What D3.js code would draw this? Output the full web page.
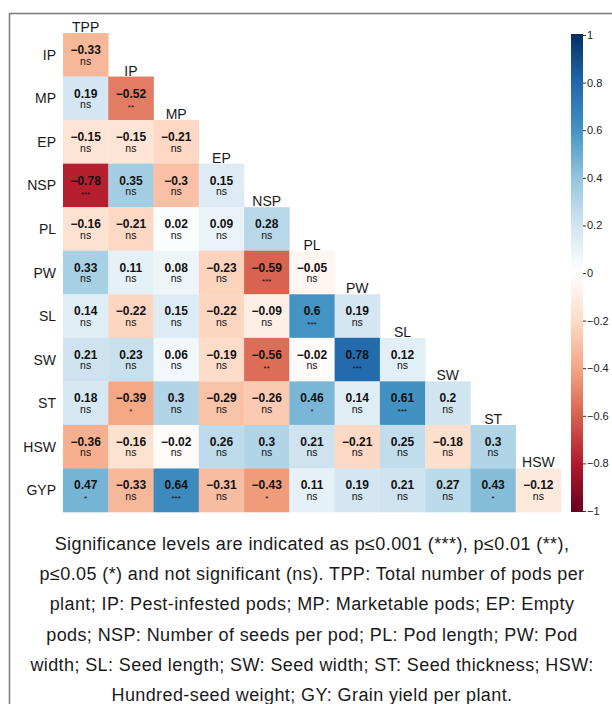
<!DOCTYPE html>
<meta charset="utf-8">
<script src="https://d3js.org/d3.v7.min.js"></script>
<style>
  body { margin: 0; background: #fff; }
  text { font-family: "Liberation Sans", Arial, sans-serif; }
</style>
<svg id="chart" width="612" height="704"></svg>
<script>

// Variables
var rowVars = ["IP", "MP", "EP", "NSP", "PL", "PW", "SL", "SW", "ST", "HSW", "GYP"];
var colVars = ["TPP", "IP", "MP", "EP", "NSP", "PL", "PW", "SL", "SW", "ST", "HSW"];

// Lower triangle of correlations, one row per rowVars entry
var corr = [
  [-0.33],
  [0.19, -0.52],
  [-0.15, -0.15, -0.21],
  [-0.78, 0.35, -0.3, 0.15],
  [-0.16, -0.21, 0.02, 0.09, 0.28],
  [0.33, 0.11, 0.08, -0.23, -0.59, -0.05],
  [0.14, -0.22, 0.15, -0.22, -0.09, 0.6, 0.19],
  [0.21, 0.23, 0.06, -0.19, -0.56, -0.02, 0.78, 0.12],
  [0.18, -0.39, 0.3, -0.29, -0.26, 0.46, 0.14, 0.61, 0.2],
  [-0.36, -0.16, -0.02, 0.26, 0.3, 0.21, -0.21, 0.25, -0.18, 0.3],
  [0.47, -0.33, 0.64, -0.31, -0.43, 0.11, 0.19, 0.21, 0.27, 0.43, -0.12]
];

// Significance codes, same shape
var sig = [
  ["ns"],
  ["ns", "**"],
  ["ns", "ns", "ns"],
  ["***", "ns", "ns", "ns"],
  ["ns", "ns", "ns", "ns", "ns"],
  ["ns", "ns", "ns", "ns", "***", "ns"],
  ["ns", "ns", "ns", "ns", "ns", "***", "ns"],
  ["ns", "ns", "ns", "ns", "**", "ns", "***", "ns"],
  ["ns", "*", "ns", "ns", "ns", "*", "ns", "***", "ns"],
  ["ns", "ns", "ns", "ns", "ns", "ns", "ns", "ns", "ns", "ns"],
  ["*", "ns", "***", "ns", "*", "ns", "ns", "ns", "ns", "*", "ns"]
];

var legendTicks = [-1, -0.8, -0.6, -0.4, -0.2, 0, 0.2, 0.4, 0.6, 0.8, 1];

var captionLines = [
  "Significance levels are indicated as p\u22640.001 (***), p\u22640.01 (**),",
  "p\u22640.05 (*) and not significant (ns). TPP: Total number of pods per",
  "plant; IP: Pest-infested pods; MP: Marketable pods; EP: Empty",
  "pods; NSP: Number of seeds per pod; PL: Pod length; PW: Pod",
  "width; SL: Seed length; SW: Seed width; ST: Seed thickness; HSW:",
  "Hundred-seed weight; GY: Grain yield per plant."
];

// corrplot style RdBu ramp, white in the middle
var palette = ["#67001F", "#B2182B", "#D6604D", "#F4A582", "#FDDBC7", "#FFFFFF",
               "#D1E5F0", "#92C5DE", "#4393C3", "#2166AC", "#053061"];

var svg = d3.select("#chart");

// frame
svg.append("path")
  .attr("d", "M9.5,704 V13.5 H612")
  .attr("fill", "none")
  .attr("stroke", "#7a7a7a")
  .attr("stroke-width", 1.5);

var x = d3.scaleBand().domain(colVars).range([63, 561]);
var y = d3.scaleBand().domain(rowVars).range([33, 512]);
var color = d3.scaleLinear()
  .domain(d3.range(palette.length).map(function(i) { return -1 + 2 * i / (palette.length - 1); }))
  .range(palette);
var fmt = function(v) { return String(v).replace("-", "\u2212"); };

// flatten lower triangle
var cells = [];
corr.forEach(function(row, i) {
  row.forEach(function(v, j) {
    cells.push({ r: rowVars[i], c: colVars[j], v: v, s: sig[i][j] });
  });
});

var g = svg.append("g");

g.selectAll("rect")
  .data(cells)
  .enter().append("rect")
    .attr("x", function(d) { return x(d.c); })
    .attr("y", function(d) { return y(d.r); })
    .attr("width", x.bandwidth() + 0.3)
    .attr("height", y.bandwidth() + 0.3)
    .attr("fill", function(d) { return color(d.v); });

g.selectAll("text.val")
  .data(cells)
  .enter().append("text")
    .attr("class", "val")
    .attr("x", function(d) { return x(d.c) + x.bandwidth() / 2; })
    .attr("y", function(d) { return y(d.r) + 21; })
    .attr("text-anchor", "middle")
    .style("font-size", "12px")
    .style("font-weight", "bold")
    .attr("fill", "#111")
    .text(function(d) { return fmt(d.v); });

g.selectAll("text.sig")
  .data(cells)
  .enter().append("text")
    .attr("class", "sig")
    .attr("x", function(d) { return x(d.c) + x.bandwidth() / 2; })
    .attr("y", function(d) { return y(d.r) + (d.s === "ns" ? 31.5 : 33); })
    .attr("text-anchor", "middle")
    .style("font-size", function(d) { return d.s === "ns" ? "10.5px" : "8px"; })
    .attr("fill", "#111")
    .text(function(d) { return d.s; });

// row labels
svg.selectAll("text.rlab")
  .data(rowVars)
  .enter().append("text")
    .attr("class", "rlab")
    .attr("x", 56)
    .attr("y", function(d) { return y(d) + y.bandwidth() / 2 + 5; })
    .attr("text-anchor", "end")
    .style("font-size", "14px")
    .attr("fill", "#1a1a1a")
    .text(function(d) { return d; });

// column labels sit on the diagonal
svg.selectAll("text.clab")
  .data(colVars)
  .enter().append("text")
    .attr("class", "clab")
    .attr("x", function(d) { return x(d) + x.bandwidth() / 2; })
    .attr("y", function(d, i) { return y(rowVars[i]) - 1; })
    .attr("text-anchor", "middle")
    .style("font-size", "14px")
    .attr("fill", "#1a1a1a")
    .text(function(d) { return d; });

// colour bar
var ly = d3.scaleLinear().domain([-1, 1]).range([511, 35]);
var grad = svg.append("defs").append("linearGradient")
  .attr("id", "grad")
  .attr("x1", 0).attr("y1", 1).attr("x2", 0).attr("y2", 0);
d3.range(0, 1.0001, 0.025).forEach(function(t) {
  grad.append("stop")
    .attr("offset", t)
    .attr("stop-color", color(-1 + 2 * t));
});
svg.append("rect")
  .attr("x", 571)
  .attr("y", ly(1) - 1)
  .attr("width", 12)
  .attr("height", ly(-1) - ly(1) + 2)
  .attr("fill", "url(#grad)");

var axis = svg.append("g")
  .attr("transform", "translate(583,0)")
  .call(d3.axisRight(ly)
    .tickValues(legendTicks)
    .tickSize(3)
    .tickPadding(1)
    .tickFormat(function(d) { return fmt(d); }));
axis.select(".domain").remove();
axis.selectAll("line").attr("stroke", "#333");
axis.selectAll("text")
  .style("font-size", "11px")
  .style("font-family", "\"Liberation Sans\", Arial, sans-serif")
  .attr("fill", "#222");

// caption
svg.selectAll("text.cap")
  .data(captionLines)
  .enter().append("text")
    .attr("class", "cap")
    .attr("x", 312)
    .attr("y", function(d, i) { return 550 + i * 30.2; })
    .attr("text-anchor", "middle")
    .style("font-size", "18px")
    .style("letter-spacing", "0.4px")
    .attr("fill", "#1a1a1a")
    .text(function(d) { return d; });

</script>
